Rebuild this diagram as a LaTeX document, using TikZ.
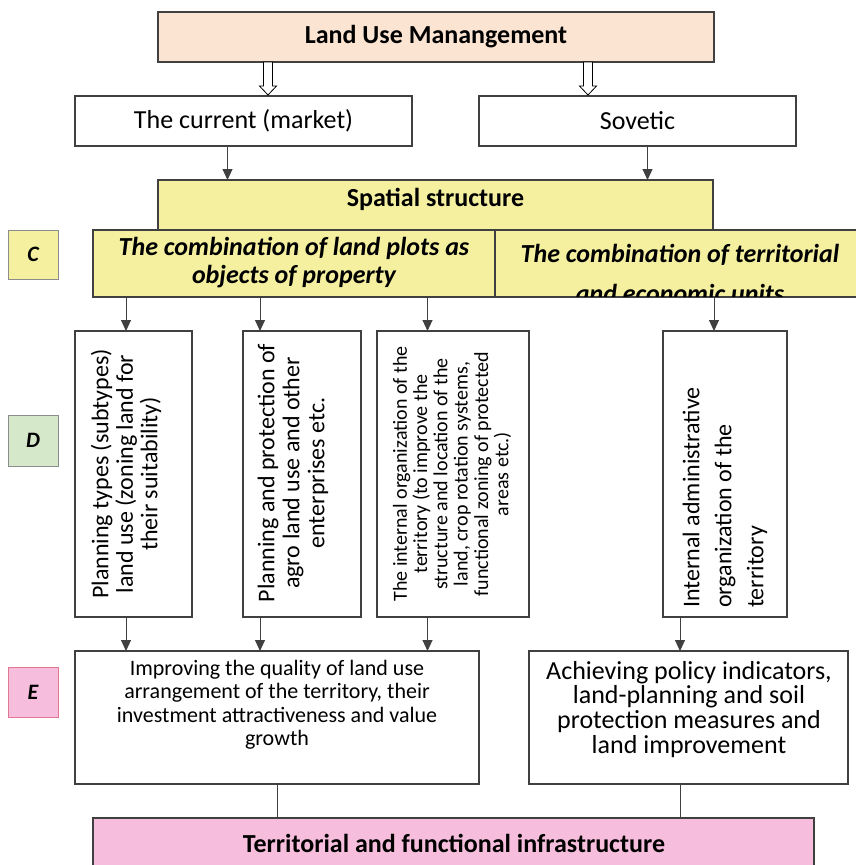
\documentclass[tikz,border=0pt]{standalone}
\usepackage{fontspec}
\setmainfont{Carlito}
\usetikzlibrary{calc,arrows.meta}
\definecolor{edge}{RGB}{64,64,64}
\definecolor{peach}{RGB}{251,228,210}
\definecolor{paleyellow}{RGB}{244,240,160}
\definecolor{palegreen}{RGB}{214,232,202}
\definecolor{palepink}{RGB}{246,190,220}
\definecolor{pinkedge}{RGB}{225,120,145}
\definecolor{grayedge}{RGB}{140,140,140}
\newcommand{\fs}[2]{\fontsize{#1}{#2}\selectfont}
\begin{document}
\begin{tikzpicture}[x=1pt,y=-1pt,
  box/.style={draw=edge, line width=1.2pt, inner sep=0pt, outer sep=0pt, anchor=north west},
  tag/.style={draw=grayedge, line width=0.8pt, inner sep=0pt, outer sep=0pt, anchor=north west,
    minimum width=50pt, font=\fs{22}{26}\bfseries\itshape},
  arr/.style={draw=edge, line width=1pt, -{Triangle[length=11pt,width=10pt]}},
  link/.style={draw=edge, line width=1pt},
  hollow/.style={draw=black, line width=0.8pt, fill=white},
  vtext/.style={rotate=90, align=center, inner sep=0pt},
]
\useasboundingbox (0,0) rectangle (856,865);
\clip (0,0) rectangle (856,865);

% level A
\node[box, fill=peach, minimum width=556pt, minimum height=50pt,
  font=\fs{26}{30}\bfseries] (top) at (158,12) {Land Use Manangement};
% level B
\node[box, minimum width=337pt, minimum height=50pt, font=\fs{26}{30}] (cur) at (75,96) {The current (market)};
\node[box, minimum width=317pt, minimum height=50pt, font=\fs{26}{30}] (sov) at (479,96) {Sovetic};

\coordinate (h1) at ($(top.south west)+(110,0)$);
\coordinate (h2) at ($(top.south west)+(430,0)$);
\foreach \h in {h1,h2}{
  \draw[hollow] (\h) ++(-4.5,0) -- ++(0,24) -- ++(-4,0) -- ++(8.5,9) -- ++(8.5,-9) -- ++(-4,0) -- ++(0,-24) -- cycle;
}

% spatial structure
\node[box, fill=paleyellow, minimum width=555pt, minimum height=50pt] (spat) at (158,180) {};
\node[font=\fs{26}{30}\bfseries] (spatt) at ($(spat.center)+(0,-6)$) {Spatial structure};

\coordinate (a1) at ($(cur.south)+(-16,0)$);
\coordinate (a2) at ($(sov.south)+(10,0)$);
\draw[arr] (a1) -- (a1 |- spat.north);
\draw[arr] (a2) -- (a2 |- spat.north);

% level C
\node[tag, fill=paleyellow, minimum height=49pt] (C) at (8,230) {C};
\node[box, fill=paleyellow, minimum width=402pt, minimum height=67pt] (cl) at (93,230) {};
\node[align=center, font=\fs{26}{28}\bfseries\itshape] (clt) at (294,263) {The combination of land plots as\\objects of property};
\node[box, fill=paleyellow, minimum width=380pt, minimum height=67pt] (cr) at (495,230) {};
\begin{scope}
  \clip ($(cr.north west)+(0.6,0.6)$) rectangle ($(cr.south east)+(-0.6,-0.6)$);
  \node[anchor=base, font=\fs{26}{28}\bfseries\itshape] (crt1) at (680,262) {The combination of territorial};
  \node[anchor=base, font=\fs{26}{28}\bfseries\itshape] (crt2) at (680,302) {and economic units};
\end{scope}

% level D
\node[tag, fill=palegreen, minimum height=51pt] (D) at (8,415) {D};
\node[box, minimum width=117pt, minimum height=286pt] (d1) at (75,331) {};
\node[box, minimum width=118pt, minimum height=286pt] (d2) at (243,331) {};
\node[box, minimum width=152pt, minimum height=286pt] (d3) at (377,331) {};
\node[box, minimum width=124pt, minimum height=286pt] (d4) at (663,331) {};
\node[vtext, font=\fs{24}{24.5}] (d1t) at (126,474) {Planning types (subtypes)\\land use (zoning land for\\their suitability)};
\node[vtext, font=\fs{24}{25}] (d2t) at (293,473) {Planning and protection of\\agro land use and other\\enterprises etc.};
\node[vtext, font=\fs{20}{20.3}] (d3t) at (452,474) {The internal organization of the\\territory (to improve the\\structure and location of the\\land, crop rotation systems,\\functional zoning of protected\\areas etc.)};
\node[rotate=90, align=left, inner sep=0pt, anchor=west, font=\fs{24}{32}] (d4t) at (725,608) {Internal administrative\\organization of the\\territory};

\foreach \n/\dx in {d1/-7.5, d2/-42, d3/-25.5}{
  \coordinate (c\n) at ($(\n.north)+(\dx,0)$);
  \draw[arr] (c\n |- cl.south) -- (c\n);
}
\coordinate (cd4) at ($(d4.north)+(-11,0)$);
\draw[arr] (cd4 |- cr.south) -- (cd4);

% level E
\node[tag, draw=pinkedge, fill=palepink, minimum height=50pt] (E) at (8,667) {E};
\node[box, minimum width=404pt, minimum height=133pt] (el) at (75,651) {};
\node[box, minimum width=319pt, minimum height=133pt] (er) at (529,651) {};
\node[anchor=north, align=center, inner sep=0pt, font=\fs{22}{23.5}] (elt) at (277,660)
  {Improving the quality of land use\\arrangement of the territory, their\\investment attractiveness and value\\growth};
\node[anchor=north, align=center, inner sep=0pt, font=\fs{26}{24.7}] (ert) at (689,661)
  {Achieving policy indicators,\\land-planning and soil\\protection measures and\\land improvement};

\foreach \n in {d1,d2,d3}{
  \coordinate (e\n) at (c\n |- \n.south);
  \draw[arr] (e\n) -- (e\n |- el.north);
}
\coordinate (ed4) at ($(d4.south)+(-45,0)$);
\draw[arr] (ed4) -- (ed4 |- er.north);

% level F
\node[box, fill=palepink, minimum width=721pt, minimum height=60pt] (bot) at (93,818) {};
\node[font=\fs{26}{30}\bfseries] (bott) at (454,843) {Territorial and functional infrastructure};
\coordinate (f1) at ($(el.south west)+(202,0)$);
\coordinate (f2) at (ed4 |- er.south);
\draw[link] (f1) -- (f1 |- bot.north);
\draw[link] (f2) -- (f2 |- bot.north);
\end{tikzpicture}
\end{document}
